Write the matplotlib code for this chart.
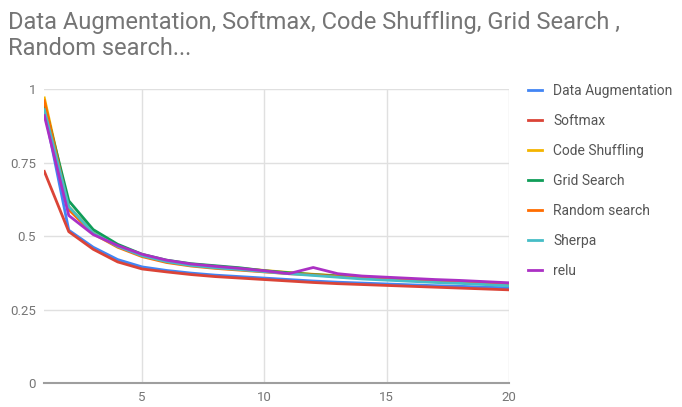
import matplotlib
matplotlib.use("Agg")
import matplotlib.pyplot as plt

epochs = list(range(1, 21))

data_augmentation = [0.93, 0.52, 0.462, 0.42, 0.395, 0.383, 0.374, 0.367, 0.362, 0.357,
                     0.352, 0.347, 0.343, 0.340, 0.337, 0.334, 0.331, 0.329, 0.326, 0.324]
softmax = [0.72, 0.515, 0.455, 0.412, 0.388, 0.378, 0.369, 0.362, 0.357, 0.352,
           0.347, 0.342, 0.338, 0.335, 0.332, 0.329, 0.326, 0.323, 0.320, 0.317]
code_shuffling = [0.97, 0.60, 0.512, 0.468, 0.436, 0.416, 0.403, 0.396, 0.390, 0.383,
                  0.376, 0.370, 0.365, 0.360, 0.357, 0.353, 0.349, 0.346, 0.342, 0.338]
grid_search = [0.95, 0.62, 0.522, 0.472, 0.438, 0.418, 0.406, 0.399, 0.392, 0.382,
               0.375, 0.369, 0.364, 0.360, 0.356, 0.352, 0.349, 0.345, 0.341, 0.337]
random_search = [0.96, 0.59, 0.508, 0.462, 0.430, 0.410, 0.398, 0.390, 0.384, 0.378,
                 0.372, 0.368, 0.362, 0.357, 0.353, 0.349, 0.345, 0.342, 0.338, 0.334]
sherpa = [0.93, 0.60, 0.510, 0.465, 0.433, 0.413, 0.400, 0.392, 0.386, 0.379,
          0.372, 0.366, 0.360, 0.354, 0.350, 0.346, 0.342, 0.339, 0.335, 0.331]
relu = [0.91, 0.57, 0.505, 0.468, 0.438, 0.418, 0.405, 0.397, 0.390, 0.382,
        0.372, 0.393, 0.372, 0.364, 0.360, 0.356, 0.352, 0.349, 0.345, 0.341]

series = [
    ("Data Augmentation", data_augmentation, "#4285F4"),
    ("Softmax", softmax, "#DB4437"),
    ("Code Shuffling", code_shuffling, "#F4B400"),
    ("Grid Search", grid_search, "#0F9D58"),
    ("Random search", random_search, "#FF6D00"),
    ("Sherpa", sherpa, "#46BDC6"),
    ("relu", relu, "#AB30C4"),
]

plt.rcParams["font.family"] = ["Roboto", "DejaVu Sans"]

fig = plt.figure(figsize=(6.82, 4.07), dpi=100)
ax = fig.add_axes([0.065, 0.059, 0.681, 0.722])

for name, vals, col in series:
    ax.plot(epochs, vals, color=col, lw=2, label=name, solid_joinstyle="round")

ax.set_xlim(1, 20)
ax.set_ylim(0, 1)
ax.set_xticks([5, 10, 15, 20])
ax.set_yticks([0, 0.25, 0.5, 0.75, 1])
ax.set_yticklabels(["0", "0.25", "0.5", "0.75", "1"])
ax.grid(True, color="#e0e0e0", lw=1)
ax.set_axisbelow(True)
for s in ["top", "right", "left"]:
    ax.spines[s].set_visible(False)
ax.spines["bottom"].set_color("#9e9e9e")
ax.spines["bottom"].set_linewidth(1.5)
ax.tick_params(length=0, labelsize=9.5, colors="#757575", pad=6)

fig.text(0.012, 0.945, "Data Augmentation, Softmax, Code Shuffling, Grid Search ,",
         fontsize=17, color="#757575", va="center")
fig.text(0.012, 0.880, "Random search...", fontsize=17, color="#757575", va="center")

ax.legend(loc="upper left", bbox_to_anchor=(1.015, 1.06), frameon=False, fontsize=10,
          labelcolor="#555555", handlelength=1.0, handletextpad=0.8, labelspacing=1.15)

fig.savefig("out.png", dpi=100)
